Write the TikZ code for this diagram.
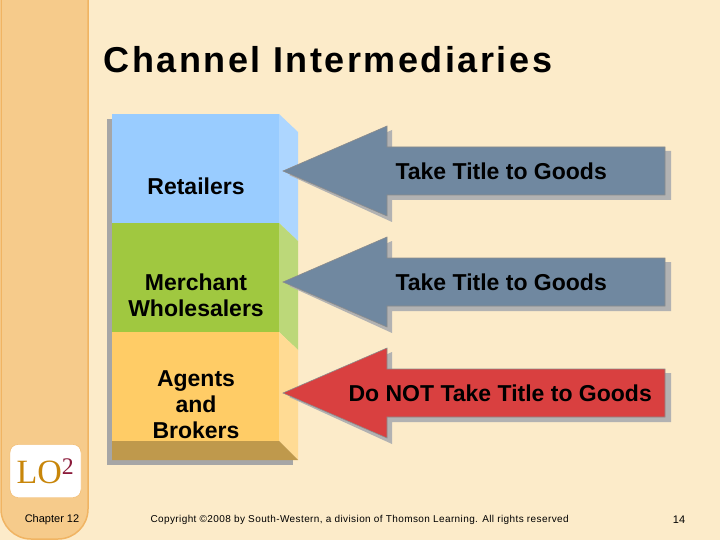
\documentclass[tikz,border=0pt]{standalone}
\usepackage{fontspec}
\setmainfont{Liberation Sans}
\newfontfamily\serifLO{Liberation Serif}
\newfontfamily\titlefont[LetterSpace=7]{Liberation Sans}
\newfontfamily\footfont[LetterSpace=4]{Liberation Sans}
\usetikzlibrary{positioning}
\definecolor{bgcream}{HTML}{FCEBC9}
\definecolor{sidebar}{HTML}{F6CB8B}
\definecolor{sideline}{HTML}{F0B463}
\definecolor{retailblue}{HTML}{99CCFF}
\definecolor{merchgreen}{HTML}{A0C840}
\definecolor{agentorange}{HTML}{FFCC66}
\definecolor{slate}{HTML}{7088A0}
\definecolor{redarrow}{HTML}{D94040}
\definecolor{lored}{HTML}{8B1A3A}
\definecolor{logold}{HTML}{C8860A}
\begin{document}
\begin{tikzpicture}[x=1pt,y=-1pt,
    band/.style={minimum width=167pt, minimum height=109pt, inner sep=0pt, anchor=north west},
    bandtext/.style={font=\fontsize{23}{26}\selectfont\bfseries, align=center},
    arrowshape/.style={draw=black!45, line width=0.6pt},
    arrowtext/.style={font=\fontsize{23}{26}\selectfont\bfseries}
  ]
  \useasboundingbox (0,0) rectangle (720,540);
  \fill[bgcream] (0,0) rectangle (720,540);
  % Side bar
  \draw[sideline, fill=sidebar, line width=1.5pt, rounded corners=30pt] (1,-30) rectangle (88,539);
  \node[draw=sideline, fill=white, rounded corners=8pt, minimum width=71pt, minimum height=53pt] (lo) at (45.5,471)
    {\serifLO\fontsize{34}{34}\selectfont\color{logold}LO\textsuperscript{\color{lored}2}};
  \node[font=\fontsize{11}{13}\selectfont] (chap) at (52,520) {Chapter 12};
  % Title
  \node[font=\titlefont\fontsize{36}{40}\selectfont\bfseries, anchor=west] (title) at (100,60) {Channel Intermediaries};
  % Column shadow and side faces
  \fill[gray!70] (107,119) rectangle (112,465);
  \fill[gray!70] (107,460) rectangle (293,465);
  \fill[retailblue!80!white] (279,114) -- (298,132) -- (298,241) -- (279,223) -- cycle;
  \fill[merchgreen!70!white] (279,223) -- (298,241) -- (298,350) -- (279,332) -- cycle;
  \fill[agentorange!70!white] (279,332) -- (298,350) -- (298,460) -- (279,441) -- cycle;
  \fill[agentorange!75!black] (112,441) -- (279,441) -- (298,460) -- (112,460) -- cycle;
  % Bands
  \node[band, fill=retailblue] (retail) at (112,114) {};
  \node[band, fill=merchgreen] (merch) at (112,223) {};
  \node[band, fill=agentorange] (agents) at (112,332) {};
  \node[bandtext] (retailtxt) at (196,186) {Retailers};
  \node[bandtext] (merchtxt) at (196,295) {Merchant\\Wholesalers};
  \node[bandtext] (agentstxt) at (196,405) {Agents\\and\\Brokers};
  % Arrows
  \foreach \ty/\col/\name in {171/slate/a1, 282/slate/a2, 393/redarrow/a3}{
    \fill[gray!60] (289,\ty+4) -- (392,\ty-41) -- (392,\ty-20) -- (671,\ty-20) -- (671,\ty+29)
      -- (392,\ty+29) -- (392,\ty+51) -- cycle;
    \draw[arrowshape, fill=\col] (283,\ty) -- (387,\ty-45) -- (387,\ty-24) -- (665,\ty-24) -- (665,\ty+24)
      -- (387,\ty+24) -- (387,\ty+45) -- cycle;
    \coordinate (\name) at (283,\ty);
  }
  \node[arrowtext, anchor=west] (t1) at (392,171) {Take Title to Goods};
  \node[arrowtext, anchor=west] (t2) at (392,282) {Take Title to Goods};
  \node[arrowtext, anchor=west] (t3) at (345,393) {Do NOT Take Title to Goods};
  % Footer
  \node[font=\footfont\fontsize{10}{12}\selectfont, anchor=west] (copy) at (147,520)
    {Copyright ©2008 by South-Western, a division of Thomson Learning. All rights reserved};
  \node[font=\fontsize{11}{13}\selectfont] (page) at (679,520) {14};
\end{tikzpicture}
\end{document}
